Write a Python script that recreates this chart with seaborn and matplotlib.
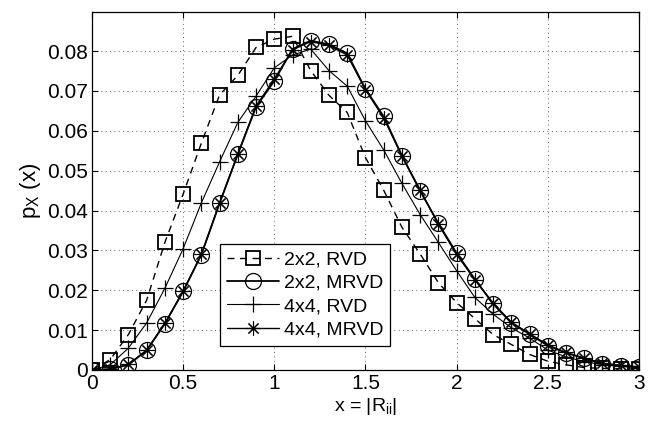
import matplotlib
matplotlib.use('Agg')
import matplotlib.pyplot as plt
import seaborn as sns
import numpy as np
import pandas as pd

sns.set_style("ticks")
plt.rcParams['font.family'] = ['Liberation Sans', 'DejaVu Sans']
plt.rcParams['mathtext.fontset'] = 'custom'
plt.rcParams['mathtext.rm'] = 'Liberation Sans'
plt.rcParams['mathtext.it'] = 'Liberation Sans'
plt.rcParams['text.color'] = 'black'
plt.rcParams['axes.labelcolor'] = 'black'

# x grid of the histogram bins
x_vals = [0.0, 0.1, 0.2, 0.3, 0.4, 0.5, 0.6, 0.7, 0.8, 0.9, 1.0,
          1.1, 1.2, 1.3, 1.4, 1.5, 1.6, 1.7, 1.8, 1.9, 2.0,
          2.1, 2.2, 2.3, 2.4, 2.5, 2.6, 2.7, 2.8, 2.9, 3.0]

rvd_2x2 = [0.0, 0.0026, 0.0089, 0.0175, 0.0320, 0.0441, 0.0569, 0.0690, 0.0739, 0.0809, 0.0830,
           0.0837, 0.0751, 0.0689, 0.0646, 0.0533, 0.0451, 0.0358, 0.0291, 0.0219, 0.0169,
           0.0129, 0.0089, 0.0064, 0.0039, 0.0022, 0.0013, 0.0006, 0.0004, 0.0003, 0.0002]

mrvd_2x2 = [0.0, 0.0002, 0.0013, 0.0049, 0.0116, 0.0197, 0.0289, 0.0418, 0.0541, 0.0660, 0.0725,
            0.0805, 0.0826, 0.0817, 0.0794, 0.0705, 0.0636, 0.0538, 0.0449, 0.0368, 0.0293,
            0.0228, 0.0166, 0.0118, 0.0090, 0.0061, 0.0043, 0.0029, 0.0016, 0.0011, 0.0007]

rvd_4x4 = [0.0, 0.0013, 0.0055, 0.0118, 0.0205, 0.0304, 0.0419, 0.0522, 0.0621, 0.0687, 0.0758,
           0.0790, 0.0805, 0.0751, 0.0712, 0.0625, 0.0552, 0.0468, 0.0390, 0.0320, 0.0249,
           0.0182, 0.0140, 0.0106, 0.0080, 0.0050, 0.0033, 0.0021, 0.0013, 0.0009, 0.0006]

mrvd_4x4 = [0.0, 0.0002, 0.0014, 0.0050, 0.0117, 0.0198, 0.0290, 0.0419, 0.0542, 0.0662, 0.0730,
            0.0803, 0.0824, 0.0814, 0.0790, 0.0703, 0.0632, 0.0536, 0.0452, 0.0365, 0.0290,
            0.0226, 0.0168, 0.0120, 0.0091, 0.0063, 0.0044, 0.0030, 0.0017, 0.0012, 0.0008]

labels = ['2x2, RVD', '2x2, MRVD', '4x4, RVD', '4x4, MRVD']
x_ticks = [0, 0.5, 1, 1.5, 2, 2.5, 3]
x_tick_labels = ['0', '0.5', '1', '1.5', '2', '2.5', '3']
y_ticks = [0, 0.01, 0.02, 0.03, 0.04, 0.05, 0.06, 0.07, 0.08]
y_tick_labels = ['0', '0.01', '0.02', '0.03', '0.04', '0.05', '0.06', '0.07', '0.08']

df = pd.DataFrame({'x': x_vals, 'rvd2': rvd_2x2, 'mrvd2': mrvd_2x2,
                   'rvd4': rvd_4x4, 'mrvd4': mrvd_4x4})

fig = plt.figure(figsize=(6.52, 4.23), dpi=100)
ax = fig.add_axes([0.141, 0.1253, 0.839, 0.8463])

common = dict(color='black', markerfacecolor='none', markeredgecolor='black', ax=ax)
sns.lineplot(data=df, x='x', y='rvd2', label=labels[0], linestyle=(0, (5, 4)), linewidth=1.0,
             marker='s', markersize=10, markeredgewidth=1.3, **common)
sns.lineplot(data=df, x='x', y='mrvd2', label=labels[1], linestyle='-', linewidth=1.3,
             marker='o', markersize=11.5, markeredgewidth=0.9, **common)
sns.lineplot(data=df, x='x', y='rvd4', label=labels[2], linestyle='-', linewidth=0.8,
             marker='+', markersize=12, markeredgewidth=0.9, **common)
sns.lineplot(data=df, x='x', y='mrvd4', label=labels[3], linestyle='-', linewidth=1.0,
             marker=(8, 2, 0), markersize=10, markeredgewidth=0.8, **common)

ax.set_xlim(0, 3)
ax.set_ylim(0, 0.0898)
ax.set_xticks(x_ticks)
ax.set_xticklabels(x_tick_labels)
ax.set_yticks(y_ticks)
ax.set_yticklabels(y_tick_labels)
ax.tick_params(direction='in', top=True, right=True, length=4, width=0.8,
               labelsize=15, colors='black', pad=3)
ax.grid(True, color='0.4', linestyle=(0, (1, 3.5)), linewidth=0.7)
for s in ax.spines.values():
    s.set_color('black')
    s.set_linewidth(0.9)
    s.set_visible(True)

ax.set_xlabel(r'x = |R$_{\rm ii}$|', fontsize=14, labelpad=2)
ax.set_ylabel(r'p$_{\rm X}$ (x)', fontsize=16, labelpad=3)

leg = ax.legend(loc='upper left', bbox_to_anchor=(0.234, 0.352), fontsize=14,
                handlelength=2.7, handletextpad=0.25, borderpad=0.35, labelspacing=0.3,
                fancybox=False, framealpha=1, edgecolor='black', borderaxespad=0)
leg.get_frame().set_linewidth(0.9)

fig.savefig('out.png', dpi=100)
